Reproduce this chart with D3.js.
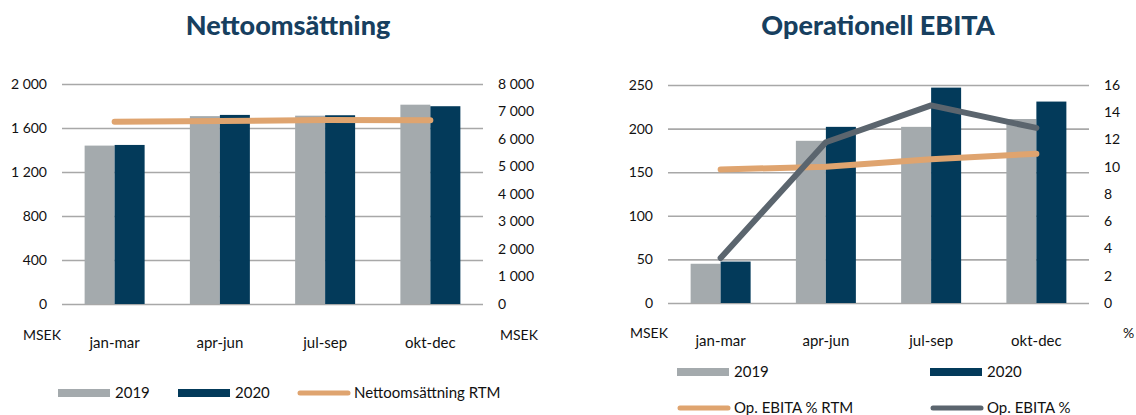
<!DOCTYPE html>
<html>
<head>
<meta charset="utf-8">
<script src="https://cdn.jsdelivr.net/npm/d3@7"></script>
<style>
  body { margin: 0; background: #fff; }
  text { font-family: Lato, "Open Sans", sans-serif; fill: #111; }
</style>
</head>
<body>
<div id="chart"></div>
<script>
// data
const quarters = ["jan-mar", "apr-jun", "jul-sep", "okt-dec"];
const years = ["2019", "2020"];

const salesQ2019 = [1440, 1708, 1712, 1812];
const salesQ2020 = [1446, 1719, 1716, 1798];
const salesRtm = [6630, 6655, 6690, 6685];
const salesTicks = [0, 400, 800, 1200, 1600, 2000];
const salesRtmTicks = [0, 1000, 2000, 3000, 4000, 5000, 6000, 7000, 8000];

const ebitaQ2019 = [45, 186, 202, 211];
const ebitaQ2020 = [47.5, 202, 247, 231];
const ebitaPctRtm = [9.8, 10.0, 10.55, 10.95];
const ebitaPct = [3.3, 11.8, 14.5, 12.85];
const ebitaTicks = [0, 50, 100, 150, 200, 250];
const ebitaPctTicks = [0, 2, 4, 6, 8, 10, 12, 14, 16];

const width = 1136, height = 415;
const colors = {y2019: "#a4aaad", y2020: "#033a5a", rtm: "#dfa46f", pct: "#5b656e", grid: "#a8a8a8", title: "#173f5f"};

const fmt = d3.formatLocale({decimal: ",", thousands: "\u00a0", grouping: [3], currency: ["", ""]}).format(",d");

const svg = d3.select("#chart")
  .append("svg")
  .attr("width", width)
  .attr("height", height);

function drawPanel(opt) {
  const g = svg.append("g");
  const {x0, x1, yTop, yBot} = opt;

  const x = d3.scaleBand().domain(quarters).range([x0, x1]).paddingInner(0.43).paddingOuter(0.215);
  const xs = d3.scaleBand().domain(years).range([0, x.bandwidth()]);
  const y = d3.scaleLinear().domain([0, d3.max(opt.leftTicks)]).range([yBot, yTop]);
  const y2 = d3.scaleLinear().domain([0, d3.max(opt.rightTicks)]).range([yBot, yTop]);

  // gridlines + left axis
  const gl = g.append("g")
    .attr("transform", `translate(${x0},0)`)
    .call(d3.axisLeft(y).tickValues(opt.leftTicks).tickSize(-(x1 - x0)).tickPadding(15).tickFormat(fmt));
  gl.select(".domain").remove();
  gl.selectAll(".tick line").attr("stroke", colors.grid).attr("stroke-width", 1.6);
  gl.selectAll(".tick text").style("font-size", "14px").attr("fill", "#111");

  // right axis
  const gr = g.append("g")
    .attr("transform", `translate(${x1},0)`)
    .call(d3.axisRight(y2).tickValues(opt.rightTicks).tickSize(0).tickPadding(15).tickFormat(fmt));
  gr.select(".domain").remove();
  gr.selectAll(".tick text").style("font-size", "14px").attr("fill", "#111");

  // bars
  const rows = quarters.map((q, i) => ({q, vals: [opt.bars[0][i], opt.bars[1][i]]}));
  g.append("g").selectAll("g")
    .data(rows)
    .join("g")
    .attr("transform", d => `translate(${x(d.q)},0)`)
    .selectAll("rect")
    .data(d => d.vals.map((v, j) => ({year: years[j], v})))
    .join("rect")
    .attr("x", d => xs(d.year))
    .attr("y", d => y(d.v))
    .attr("width", xs.bandwidth())
    .attr("height", d => yBot - y(d.v))
    .attr("fill", d => d.year === "2019" ? colors.y2019 : colors.y2020);

  // x axis labels
  const gx = g.append("g")
    .attr("transform", `translate(0,${yBot})`)
    .call(d3.axisBottom(x).tickSize(0).tickPadding(opt.xPad));
  gx.select(".domain").remove();
  gx.selectAll(".tick text").style("font-size", "15px").attr("fill", "#111");

  // lines
  const line = d3.line()
    .x((d, i) => x(quarters[i]) + x.bandwidth() / 2)
    .y(d => y2(d));
  opt.lines.forEach(l => {
    g.append("path")
      .datum(l.values)
      .attr("d", line)
      .attr("fill", "none")
      .attr("stroke", l.color)
      .attr("stroke-width", 6)
      .attr("stroke-linecap", "round")
      .attr("stroke-linejoin", "round");
  });

  // title
  g.append("text")
    .attr("x", opt.titleX)
    .attr("y", 35)
    .attr("text-anchor", "middle")
    .style("font-size", "27px")
    .style("font-weight", "900")
    .style("fill", colors.title)
    .text(opt.title);

  // unit labels
  opt.units.forEach(u => {
    g.append("text")
      .attr("x", u.x)
      .attr("y", u.y)
      .style("font-size", "14px")
      .text(u.text);
  });

  // legend
  opt.legend.forEach(it => {
    if (it.type === "rect") {
      g.append("rect").attr("x", it.x).attr("y", it.y - 4).attr("width", 52).attr("height", 8).attr("fill", it.color);
    } else {
      g.append("line").attr("x1", it.x + 3).attr("x2", it.x + 51).attr("y1", it.y).attr("y2", it.y)
        .attr("stroke", it.color).attr("stroke-width", 5).attr("stroke-linecap", "round");
    }
    g.append("text")
      .attr("x", it.x + 57)
      .attr("y", it.y + 5)
      .style("font-size", "15px")
      .text(it.label);
  });
}

drawPanel({
  x0: 62, x1: 483, yTop: 84, yBot: 304, xPad: 33,
  leftTicks: salesTicks, rightTicks: salesRtmTicks,
  bars: [salesQ2019, salesQ2020],
  lines: [{values: salesRtm, color: colors.rtm}],
  title: "Nettoomsättning", titleX: 288,
  units: [{text: "MSEK", x: 23, y: 340}, {text: "MSEK", x: 500, y: 340}],
  legend: [
    {type: "rect", x: 58, y: 393, color: colors.y2019, label: "2019"},
    {type: "rect", x: 178, y: 393, color: colors.y2020, label: "2020"},
    {type: "line", x: 297, y: 393, color: colors.rtm, label: "Nettoomsättning RTM"}
  ]
});

drawPanel({
  x0: 668, x1: 1089, yTop: 85, yBot: 303, xPad: 32,
  leftTicks: ebitaTicks, rightTicks: ebitaPctTicks,
  bars: [ebitaQ2019, ebitaQ2020],
  lines: [{values: ebitaPctRtm, color: colors.rtm}, {values: ebitaPct, color: colors.pct}],
  title: "Operationell EBITA", titleX: 878,
  units: [{text: "MSEK", x: 630, y: 338}, {text: "%", x: 1123, y: 338}],
  legend: [
    {type: "rect", x: 677, y: 372, color: colors.y2019, label: "2019"},
    {type: "rect", x: 930, y: 372, color: colors.y2020, label: "2020"},
    {type: "line", x: 677, y: 408, color: colors.rtm, label: "Op. EBITA % RTM"},
    {type: "line", x: 930, y: 408, color: colors.pct, label: "Op. EBITA %"}
  ]
});
</script>
</body>
</html>
